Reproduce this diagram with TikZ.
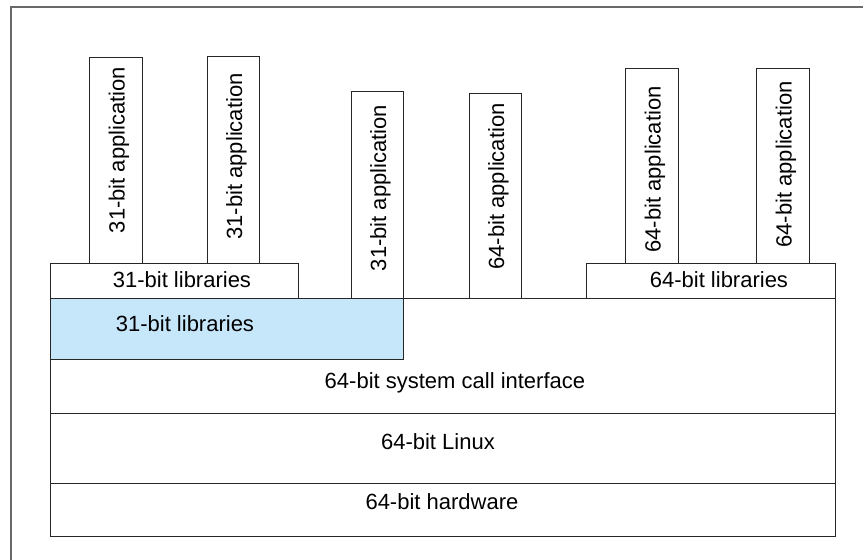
\documentclass[tikz,border=0pt]{standalone}
\usepackage{fontspec}
\setmainfont{Liberation Sans}
\usepackage{tikz}

\definecolor{libblue}{RGB}{198,230,250}
\definecolor{framegray}{RGB}{105,105,105}

\begin{document}
\begin{tikzpicture}[x=1pt, y=-1pt,
    font=\fontsize{22pt}{26pt}\selectfont,
    layer/.style={draw=black!85, line width=0.9pt, fill=white, inner sep=0pt, anchor=north west},
    appbox/.style={layer, minimum width=53pt}]
    \useasboundingbox (0,0) rectangle (863,560);
    \draw[framegray, line width=1.2pt] (11,560) -- (11,7) -- (863,7);

    % layers of the system
    \node[layer, minimum width=785pt, minimum height=115pt,
          label={[xshift=12pt, yshift=-26.5pt]center:64-bit system call interface}]
          at (50,298) (syscall) {};
    \node[layer, minimum width=785pt, minimum height=70pt,
          label={[xshift=-5pt, yshift=7pt]center:64-bit Linux}]
          at (50,413) (linux) {};
    \node[layer, minimum width=785pt, minimum height=53pt,
          label={[xshift=-1pt, yshift=8.5pt]center:64-bit hardware}]
          at (50,483) (hardware) {};
    \node[layer, fill=libblue, minimum width=353pt, minimum height=61pt,
          label={[xshift=-42pt, yshift=5.5pt]center:31-bit libraries}]
          at (50,298) (lib31low) {};

    % libraries
    \node[layer, minimum width=248pt, minimum height=35pt,
          label={[xshift=7.5pt, yshift=1.5pt]center:31-bit libraries}]
          at (50,263) (lib31) {};
    \node[layer, minimum width=249pt, minimum height=35pt,
          label={[xshift=8pt, yshift=1.5pt]center:64-bit libraries}]
          at (586,263) (lib64) {};

    % applications
    \node[appbox, minimum height=206pt,
          label={[xshift=3pt, yshift=10.5pt, rotate=90]center:31-bit application}]
          at (89,57) (app1) {};
    \node[appbox, minimum width=52pt, minimum height=207pt,
          label={[xshift=3pt, yshift=3.5pt, rotate=90]center:31-bit application}]
          at (207,56) (app2) {};
    \node[appbox, minimum width=52pt, minimum height=207pt,
          label={[xshift=3pt, yshift=7pt, rotate=90]center:31-bit application}]
          at (351,91) (app3) {};
    \node[appbox, minimum width=52pt, minimum height=205pt,
          label={[xshift=3pt, yshift=9.5pt, rotate=90]center:64-bit application}]
          at (469,93) (app4) {};
    \node[appbox, minimum height=195pt,
          label={[xshift=3pt, yshift=-3.5pt, rotate=90]center:64-bit application}]
          at (625,68) (app5) {};
    \node[appbox, minimum height=195pt,
          label={[xshift=3pt, yshift=1.5pt, rotate=90]center:64-bit application}]
          at (756,68) (app6) {};
\end{tikzpicture}
\end{document}
